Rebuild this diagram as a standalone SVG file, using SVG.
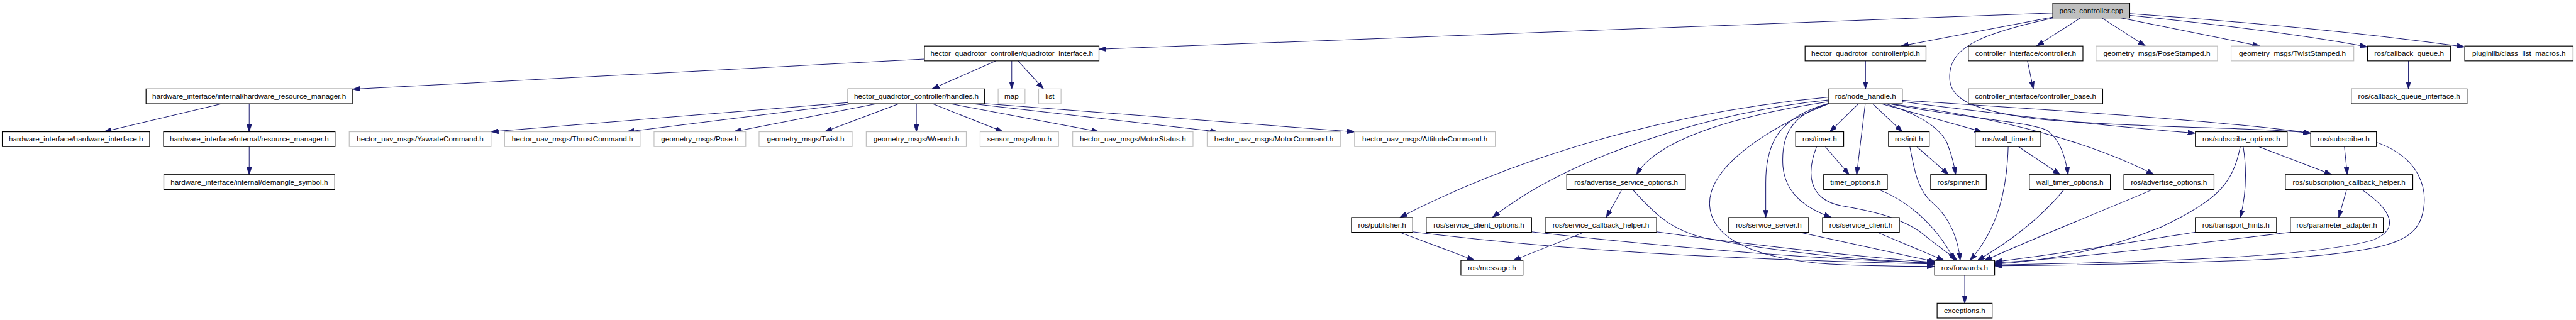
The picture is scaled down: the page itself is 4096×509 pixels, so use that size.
<svg xmlns="http://www.w3.org/2000/svg" width="4096" height="509" viewBox="0 0 4096 509">
<defs>
<style>
.n rect{fill:#fff;stroke:#000;stroke-width:1.3}
.g rect{fill:#fff;stroke:#bfbfbf;stroke-width:1.3}
.r rect{fill:#bfbfbf;stroke:#000;stroke-width:1.3}
text{font-family:"Liberation Sans",Arial,Helvetica,sans-serif;font-size:12.9px;text-anchor:middle;fill:#000}
#edges path{fill:none;stroke:#191970;stroke-width:1.1;marker-end:url(#ah)}
</style>
<marker id="ah" markerUnits="userSpaceOnUse" viewBox="0 0 13 9" refX="13" refY="4.5" markerWidth="13" markerHeight="9" orient="auto">
<path d="M0,0 L13,4.5 L0,9 z" fill="#191970" stroke="#191970" stroke-width="0.8"/>
</marker>
</defs>
<rect x="0" y="0" width="4096" height="509" fill="#fff"/>
<g transform="scale(0.90921)">
<g id="edges">
<path d="M3590,22.7 L1922,86"/>
<path d="M1616.7,103.4 L617,156"/>
<path d="M1741.7,106.5 L1630,155.5"/>
<path d="M1769.4,106.5 L1769.4,155.5"/>
<path d="M1780.5,106.5 L1825,155.5"/>
<path d="M387.8,181.5 L182,230.5"/>
<path d="M435.8,181.5 L435.8,230.5"/>
<path d="M435.8,256.5 L435.8,305.5"/>
<path d="M1483,179.5 L858.8,230.5"/>
<path d="M1490,181.5 L1096,230.5"/>
<path d="M1533,181.5 L1283,230.5"/>
<path d="M1572,181.5 L1442,230.5"/>
<path d="M1602.6,181.5 L1602.6,230.5"/>
<path d="M1631,181.5 L1754,230.5"/>
<path d="M1661.8,181.5 L1922,230.5"/>
<path d="M1700.5,181.5 L2129.5,230.5"/>
<path d="M1722,181.3 L2368.8,230.6"/>
<path d="M3590,30 L3325,80.5"/>
<path d="M3590,31.7 C3470,58 3415,80 3410,127 C3405,170 3440,192 3560,208 C3750,225 3950,222 4041,233"/>
<path d="M3327,175.5 C3550,190 3900,212 4041,233"/>
<path d="M3327,178 C3500,200 3700,222 3839,233"/>
<path d="M3304,181.5 C3420,205 3545,212 3580,228 C3605,245 3613,280 3616.7,305.5"/>
<path d="M3304,181.5 C3500,205 3660,250 3767,305.5"/>
<path d="M3290,181.5 L3466,230.5"/>
<path d="M3275,181.5 L3327,230.5"/>
<path d="M3298,181.5 C3355,200 3392,222 3405,250 C3415,275 3418,290 3420,305.5"/>
<path d="M3250,181.5 L3200,230.5"/>
<path d="M3262,181.5 L3247,305.5"/>
<path d="M3192,256.5 L3234,305.5"/>
<path d="M3177,256.5 C3160,300 3160,348 3220,360 C3290,372 3335,385 3370,415 C3395,435 3410,445 3423,455.5"/>
<path d="M3285,331.5 C3340,352 3390,400 3418,455.5"/>
<path d="M3352,256.5 L3408,305.5"/>
<path d="M3340,256.5 C3348,300 3355,335 3380,355 C3410,380 3425,420 3428,455.5"/>
<path d="M3530,256.5 L3603,305.5"/>
<path d="M3512,256.5 C3510,330 3495,400 3445,455.5"/>
<path d="M3610,331.5 C3570,380 3520,420 3458,455.5"/>
<path d="M3765,331.5 C3650,380 3550,420 3470,456"/>
<path d="M3918,256.5 C3905,320 3880,350 3780,397 C3700,430 3600,455 3488,462"/>
<path d="M3923,256.5 C3930,300 3928,340 3918,380.5"/>
<path d="M3950,256.5 L4078,305.5"/>
<path d="M4100,256.5 L4105,305.5"/>
<path d="M4156,249 C4230,275 4250,330 4235,380 C4220,425 4170,438 4000,452 C3800,462 3600,464 3488,465"/>
<path d="M4104,331.5 L4090,380.5"/>
<path d="M4130,331.5 C4180,365 4200,400 4150,420 C4050,448 3800,458 3488,463.5"/>
<path d="M4005,406.5 C3850,425 3650,450 3488,460"/>
<path d="M3840,406 C3750,420 3600,445 3488,458"/>
<path d="M3283,406.5 L3400,455.5"/>
<path d="M3147,406.5 L3385,458"/>
<path d="M2470,405.5 C2750,440 3000,452 3383,462"/>
<path d="M2678,405.5 C2850,425 3100,450 3383,460.5"/>
<path d="M2897,405.5 C3000,420 3200,445 3383,459"/>
<path d="M2855,331.5 C2890,370 2920,402 2980,416 C3100,440 3250,455 3383,460"/>
<path d="M3198,181.5 C3100,220 2985,290 2990,360 C2995,430 3100,455 3200,462 C3280,466 3340,466 3383,466"/>
<path d="M3200,180 C3110,205 3088,250 3088,320 L3088,380.5"/>
<path d="M3200,181 C3130,200 3115,240 3118,290 C3122,340 3160,365 3203,380.5"/>
<path d="M3198,170 C2980,190 2700,250 2448,380.5"/>
<path d="M3198,175 C3000,195 2750,270 2610,380.5"/>
<path d="M3198,178 C3050,200 2900,240 2862,305.5"/>
<path d="M2836.5,331.5 L2809,380.5"/>
<path d="M2448,406.5 L2579,455.5"/>
<path d="M2770,406.5 L2646.5,455.5"/>
<path d="M3262.5,106.5 L3262.5,155.5"/>
<path d="M3545.7,106.5 L3556,155.5"/>
<path d="M3638.3,31.5 L3561.7,80.5"/>
<path d="M3676,31.5 L3752,80.5"/>
<path d="M3710,31.5 L3952,80.5"/>
<path d="M3724.6,27 C3900,45 4050,65 4140,82"/>
<path d="M3724.6,24 C3950,40 4150,60 4310,82"/>
<path d="M4212,106.5 L4212,155.5"/>
<path d="M3436,481.5 L3436,530.5"/>
</g>
<g id="pose_controller_cpp" class="r"><rect x="3590" y="5.5" width="134.6" height="26"/><text x="3657.3" y="22.9">pose_controller.cpp</text></g>
<g id="quadrotor_interface_h" class="n"><rect x="1616.7" y="80.5" width="305.3" height="26"/><text x="1769.35" y="97.9">hector_quadrotor_controller/quadrotor_interface.h</text></g>
<g id="pid_h" class="n"><rect x="3156.8" y="80.5" width="211.5" height="26"/><text x="3262.55" y="97.9">hector_quadrotor_controller/pid.h</text></g>
<g id="controller_h" class="n"><rect x="3442.3" y="80.5" width="200.4" height="26"/><text x="3542.5" y="97.9">controller_interface/controller.h</text></g>
<g id="PoseStamped_h" class="g"><rect x="3665.7" y="80.5" width="212.3" height="26"/><text x="3771.85" y="97.9">geometry_msgs/PoseStamped.h</text></g>
<g id="TwistStamped_h" class="g"><rect x="3901.8" y="80.5" width="214.6" height="26"/><text x="4009.1" y="97.9">geometry_msgs/TwistStamped.h</text></g>
<g id="callback_queue_h" class="n"><rect x="4140.5" y="80.5" width="145.3" height="26"/><text x="4213.15" y="97.9">ros/callback_queue.h</text></g>
<g id="class_list_macros_h" class="n"><rect x="4310.4" y="80.5" width="189.6" height="26"/><text x="4405.2" y="97.9">pluginlib/class_list_macros.h</text></g>
<g id="hardware_resource_manager_h" class="n"><rect x="255.4" y="155.5" width="360.7" height="26"/><text x="435.75" y="172.9">hardware_interface/internal/hardware_resource_manager.h</text></g>
<g id="handles_h" class="n"><rect x="1483" y="155.5" width="239" height="26"/><text x="1602.5" y="172.9">hector_quadrotor_controller/handles.h</text></g>
<g id="map" class="g"><rect x="1745.6" y="155.5" width="47" height="26"/><text x="1769.1" y="172.9">map</text></g>
<g id="list" class="g"><rect x="1816.4" y="155.5" width="39.2" height="26"/><text x="1836" y="172.9">list</text></g>
<g id="node_handle_h" class="n"><rect x="3198.3" y="155.5" width="128.4" height="26"/><text x="3262.5" y="172.9">ros/node_handle.h</text></g>
<g id="controller_base_h" class="n"><rect x="3442.3" y="155.5" width="235" height="26"/><text x="3559.8" y="172.9">controller_interface/controller_base.h</text></g>
<g id="callback_queue_interface_h" class="n"><rect x="4112" y="155.5" width="202.5" height="26"/><text x="4213.25" y="172.9">ros/callback_queue_interface.h</text></g>
<g id="hardware_interface_h" class="n"><rect x="3.9" y="230.5" width="257.8" height="26"/><text x="132.8" y="247.9">hardware_interface/hardware_interface.h</text></g>
<g id="resource_manager_h" class="n"><rect x="286" y="230.5" width="300" height="26"/><text x="436" y="247.9">hardware_interface/internal/resource_manager.h</text></g>
<g id="YawrateCommand_h" class="g"><rect x="610.7" y="230.5" width="248.1" height="26"/><text x="734.75" y="247.9">hector_uav_msgs/YawrateCommand.h</text></g>
<g id="ThrustCommand_h" class="g"><rect x="882.5" y="230.5" width="237" height="26"/><text x="1001" y="247.9">hector_uav_msgs/ThrustCommand.h</text></g>
<g id="Pose_h" class="g"><rect x="1143.8" y="230.5" width="160.4" height="26"/><text x="1224" y="247.9">geometry_msgs/Pose.h</text></g>
<g id="Twist_h" class="g"><rect x="1327.5" y="230.5" width="162.8" height="26"/><text x="1408.9" y="247.9">geometry_msgs/Twist.h</text></g>
<g id="Wrench_h" class="g"><rect x="1514.9" y="230.5" width="175" height="26"/><text x="1602.4" y="247.9">geometry_msgs/Wrench.h</text></g>
<g id="Imu_h" class="g"><rect x="1714.1" y="230.5" width="137.2" height="26"/><text x="1782.7" y="247.9">sensor_msgs/Imu.h</text></g>
<g id="MotorStatus_h" class="g"><rect x="1876" y="230.5" width="210.4" height="26"/><text x="1981.2" y="247.9">hector_uav_msgs/MotorStatus.h</text></g>
<g id="MotorCommand_h" class="g"><rect x="2111.1" y="230.5" width="233.5" height="26"/><text x="2227.85" y="247.9">hector_uav_msgs/MotorCommand.h</text></g>
<g id="AttitudeCommand_h" class="g"><rect x="2368.8" y="230.5" width="246.2" height="26"/><text x="2491.9" y="247.9">hector_uav_msgs/AttitudeCommand.h</text></g>
<g id="timer_h" class="n"><rect x="3140.3" y="230.5" width="84" height="26"/><text x="3182.3" y="247.9">ros/timer.h</text></g>
<g id="init_h" class="n"><rect x="3302.7" y="230.5" width="71.3" height="26"/><text x="3338.35" y="247.9">ros/init.h</text></g>
<g id="wall_timer_h" class="n"><rect x="3454.3" y="230.5" width="114.7" height="26"/><text x="3511.65" y="247.9">ros/wall_timer.h</text></g>
<g id="subscribe_options_h" class="n"><rect x="3839.3" y="230.5" width="160.7" height="26"/><text x="3919.65" y="247.9">ros/subscribe_options.h</text></g>
<g id="subscriber_h" class="n"><rect x="4041" y="230.5" width="115" height="26"/><text x="4098.5" y="247.9">ros/subscriber.h</text></g>
<g id="demangle_symbol_h" class="n"><rect x="286.5" y="305.5" width="299" height="26"/><text x="436" y="322.9">hardware_interface/internal/demangle_symbol.h</text></g>
<g id="advertise_service_options_h" class="n"><rect x="2740" y="305.5" width="207.5" height="26"/><text x="2843.75" y="322.9">ros/advertise_service_options.h</text></g>
<g id="timer_options_h" class="n"><rect x="3189.3" y="305.5" width="111.4" height="26"/><text x="3245" y="322.9">timer_options.h</text></g>
<g id="spinner_h" class="n"><rect x="3376.4" y="305.5" width="97.3" height="26"/><text x="3425.05" y="322.9">ros/spinner.h</text></g>
<g id="wall_timer_options_h" class="n"><rect x="3549" y="305.5" width="141.7" height="26"/><text x="3619.85" y="322.9">wall_timer_options.h</text></g>
<g id="advertise_options_h" class="n"><rect x="3714.3" y="305.5" width="157.7" height="26"/><text x="3793.15" y="322.9">ros/advertise_options.h</text></g>
<g id="subscription_callback_helper_h" class="n"><rect x="3996.7" y="305.5" width="222.9" height="26"/><text x="4108.15" y="322.9">ros/subscription_callback_helper.h</text></g>
<g id="publisher_h" class="n"><rect x="2363.5" y="380.5" width="107.1" height="26"/><text x="2417.05" y="397.9">ros/publisher.h</text></g>
<g id="service_client_options_h" class="n"><rect x="2494.3" y="380.5" width="184.2" height="26"/><text x="2586.4" y="397.9">ros/service_client_options.h</text></g>
<g id="service_callback_helper_h" class="n"><rect x="2702.3" y="380.5" width="194.8" height="26"/><text x="2799.7" y="397.9">ros/service_callback_helper.h</text></g>
<g id="service_server_h" class="n"><rect x="3023.3" y="380.5" width="139.7" height="26"/><text x="3093.15" y="397.9">ros/service_server.h</text></g>
<g id="service_client_h" class="n"><rect x="3187.3" y="380.5" width="134.4" height="26"/><text x="3254.5" y="397.9">ros/service_client.h</text></g>
<g id="transport_hints_h" class="n"><rect x="3839.3" y="380.5" width="142" height="26"/><text x="3910.3" y="397.9">ros/transport_hints.h</text></g>
<g id="parameter_adapter_h" class="n"><rect x="4005.5" y="380.5" width="162.5" height="26"/><text x="4086.75" y="397.9">ros/parameter_adapter.h</text></g>
<g id="message_h" class="n"><rect x="2554.9" y="455.5" width="108.6" height="26"/><text x="2609.2" y="472.9">ros/message.h</text></g>
<g id="forwards_h" class="n"><rect x="3383.3" y="455.5" width="105" height="26"/><text x="3435.8" y="472.9">ros/forwards.h</text></g>
<g id="exceptions_h" class="n"><rect x="3387.7" y="530.5" width="96.3" height="26"/><text x="3435.85" y="547.9">exceptions.h</text></g>
</g>
</svg>
